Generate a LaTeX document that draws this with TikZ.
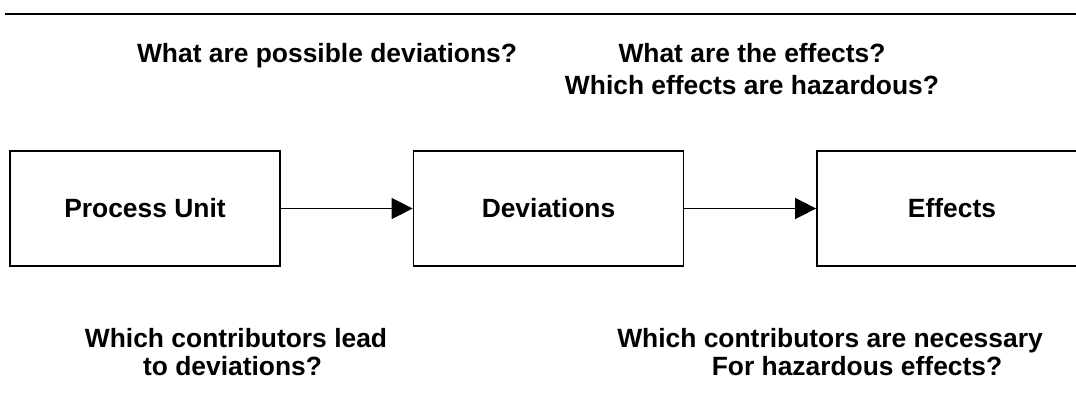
\documentclass[tikz,border=0pt]{standalone}
\usepackage{fontspec}
\setmainfont{Liberation Sans}
\usetikzlibrary{arrows.meta}
\begin{document}
\begin{tikzpicture}[x=1pt,y=-1pt,
  txt/.style={font=\bfseries\fontsize{26.4}{30}\selectfont},
  box/.style={txt, draw, line width=1.8pt, minimum width=270pt, minimum height=115pt, inner sep=0pt},
  lbl/.style={txt, anchor=base, inner sep=0pt},
  conn/.style={line width=1.6pt, -{Triangle[length=21pt,width=21pt]}},
  rule/.style={line width=2pt}]
\useasboundingbox (0,0) rectangle (1076,414);
\clip (0,0) rectangle (1076,414);
\coordinate (tl) at (5,14);
\coordinate (tr) at (1080,14);
\draw[rule] (tl) -- (tr);
\node[box] (pu) at (145,208.5) {Process Unit};
\node[box] (dv) at (548.5,208.5) {Deviations};
\node[box] (ef) at (952,208.5) {Effects};
\draw[conn] (pu) -- (dv);
\draw[conn] (dv) -- (ef);
\node[lbl] (q1) at (327,63) {What are possible deviations?};
\node[lbl] (q2) at (752,63) {What are the effects?};
\node[lbl] (q3) at (752,95) {Which effects are hazardous?};
\node[lbl] (q4) at (236,347) {Which contributors lead};
\node[lbl] (q5) at (232.5,375) {to deviations?};
\node[lbl] (q6) at (830,347) {Which contributors are necessary};
\node[lbl] (q7) at (857,375) {For hazardous effects?};
\end{tikzpicture}
\end{document}
